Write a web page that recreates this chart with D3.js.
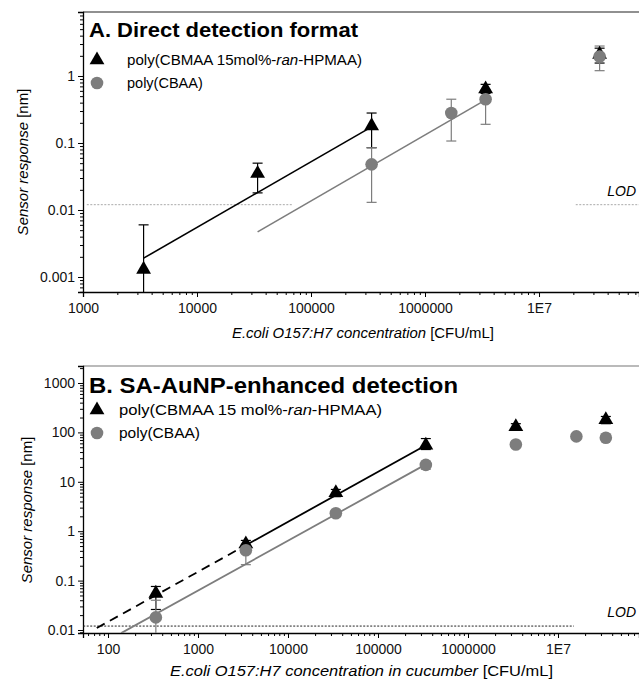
<!DOCTYPE html>
<html>
<head>
<meta charset="utf-8">
<script src="https://cdn.jsdelivr.net/npm/d3@7"></script>
<style>
  body { margin: 0; background: #fff; }
  svg { display: block; font-family: "Liberation Sans", Arial, sans-serif; }
</style>
</head>
<body>
<div id="chart"></div>
<script>
// ---- Panel A: direct detection ----
const aTriX  = [3400, 34000, 340000, 3400000, 34000000];
const aTriY  = [0.0013, 0.035, 0.18, 0.64, 2.1];
const aTriLo = [0.0003, 0.018, 0.085, 0.55, 1.56];
const aTriHi = [0.006, 0.05, 0.28, 0.75, 2.6];

const aCirX  = [340000, 1700000, 3400000, 34000000];
const aCirY  = [0.048, 0.28, 0.45, 1.95];
const aCirLo = [0.013, 0.107, 0.19, 1.2];
const aCirHi = [0.085, 0.45, 0.62, 2.8];

// fits: log10(y) = a + b*log10(x), drawn between x0 and x1
const aFitTri = { a: -6.18, b: 0.98, x0: 3400, x1: 340000 };
const aFitCir = { a: -6.79, b: 0.985, x0: 34000, x1: 3400000 };
const aLOD = 0.012;

const aXTicks = [1e3, 1e4, 1e5, 1e6, 1e7];
const aYTicks = [0.001, 0.01, 0.1, 1];

// ---- Panel B: SA-AuNP enhanced ----
const bTriX  = [340, 3400, 34000, 340000, 3400000, 34000000];
const bTriY  = [0.055, 0.55, 6, 55, 130, 180];
const bTriLo = [0.026, 0.45, 5, 45, 110, 150];
const bTriHi = [0.076, 0.65, 7, 75, 150, 210];

const bCirX  = [340, 3400, 34000, 340000, 3400000, 16000000, 34000000];
const bCirY  = [0.018, 0.41, 2.3, 22, 57, 83, 78];
const bCirLo = [0.008, 0.21, 2.0, 18, 54, 78, 74];
const bCirHi = [0.04, 0.55, 2.6, 26, 60, 88, 82];

const bFitTri = { a: -3.858, b: 1.012, x0: 3400, x1: 340000, dashFrom: 75 };
const bFitCir = { a: -4.229, b: 1.009, x0: 140, x1: 340000 };
const bLOD = 0.012;

const bXTicks = [1e2, 1e3, 1e4, 1e5, 1e6, 1e7];
const bYTicks = [0.01, 0.1, 1, 10, 100, 1000];

const W = 639, H = 680;
const GRAY = "#7d7d7d";

const svg = d3.select("#chart").append("svg")
    .attr("width", W).attr("height", H);

function fmt(v) {
    if (v >= 1e7) return "1E" + Math.round(Math.log10(v));
    return String(v);
}

function minorTicks(domain) {
    const out = [];
    const lo = Math.floor(Math.log10(domain[0])), hi = Math.ceil(Math.log10(domain[1]));
    for (let k = lo; k <= hi; k++) {
        for (let m = 2; m <= 9; m++) {
            const v = m * Math.pow(10, k);
            if (v >= domain[0] && v <= domain[1]) out.push(v);
        }
    }
    return out;
}

function fitY(f, x) { return Math.pow(10, f.a + f.b * Math.log10(x)); }

function drawPanel(cfg) {
    const g = svg.append("g");
    const x = d3.scaleLog().domain(cfg.xDomain).range([cfg.left, cfg.right]);
    const y = d3.scaleLog().domain(cfg.yDomain).range([cfg.bottom, cfg.top]);

    const clipId = "clip" + cfg.id;
    svg.append("clipPath").attr("id", clipId).append("rect")
        .attr("x", cfg.left).attr("y", cfg.top)
        .attr("width", cfg.right - cfg.left).attr("height", cfg.bottom - cfg.top);

    // top frame line
    g.append("line")
        .attr("x1", cfg.left).attr("x2", cfg.right)
        .attr("y1", cfg.top).attr("y2", cfg.top)
        .attr("stroke", cfg.frameColor).attr("stroke-width", 1.2);

    // axes: minor first, then major with labels
    const xMinor = g.append("g").attr("transform", `translate(0,${cfg.bottom})`)
        .call(d3.axisBottom(x).tickValues(minorTicks(cfg.xDomain)).tickSize(3).tickFormat(""));
    const xMajor = g.append("g").attr("transform", `translate(0,${cfg.bottom})`)
        .call(d3.axisBottom(x).tickValues(cfg.xTicks).tickSize(5).tickFormat(fmt).tickPadding(6));
    const yMinor = g.append("g").attr("transform", `translate(${cfg.left},0)`)
        .call(d3.axisLeft(y).tickValues(minorTicks(cfg.yDomain)).tickSize(3).tickFormat(""));
    const yMajor = g.append("g").attr("transform", `translate(${cfg.left},0)`)
        .call(d3.axisLeft(y).tickValues(cfg.yTicks).tickSize(5).tickFormat(fmt).tickPadding(3));

    [xMinor, xMajor, yMinor, yMajor].forEach(a => {
        a.select(".domain").attr("stroke", "#000").attr("stroke-width", 1.3);
        a.selectAll(".tick line").attr("stroke", "#000").attr("stroke-width", 1);
        a.selectAll("text").attr("font-size", 14).attr("fill", "#111")
            .attr("font-family", "Liberation Sans, Arial, sans-serif");
    });
    xMinor.select(".domain").remove();
    yMinor.select(".domain").remove();

    const plot = g.append("g").attr("clip-path", `url(#${clipId})`);

    // LOD line
    cfg.lodSegments.forEach(seg => {
        plot.append("line")
            .attr("x1", x(seg[0])).attr("x2", x(seg[1]))
            .attr("y1", y(cfg.lod)).attr("y2", y(cfg.lod))
            .attr("stroke", cfg.lodColor).attr("stroke-width", 1)
            .attr("stroke-dasharray", "2,1.5");
    });
    g.append("text")
        .attr("x", cfg.right - 3).attr("y", y(cfg.lod) - cfg.lodOffset)
        .attr("text-anchor", "end").attr("font-size", 14).attr("font-style", "italic")
        .text("LOD");

    // fit lines
    const line = d3.line().x(d => x(d)).y(d => y(fitY(cfg.fitCir, d)));
    plot.append("path").datum([cfg.fitCir.x0, cfg.fitCir.x1])
        .attr("d", line).attr("fill", "none")
        .attr("stroke", GRAY).attr("stroke-width", cfg.fitWidth);
    const lineT = d3.line().x(d => x(d)).y(d => y(fitY(cfg.fitTri, d)));
    plot.append("path").datum([cfg.fitTri.x0, cfg.fitTri.x1])
        .attr("d", lineT).attr("fill", "none")
        .attr("stroke", "#000").attr("stroke-width", cfg.fitWidth);
    if (cfg.fitTri.dashFrom) {
        plot.append("path").datum([cfg.fitTri.dashFrom, cfg.fitTri.x0])
            .attr("d", lineT).attr("fill", "none")
            .attr("stroke", "#000").attr("stroke-width", cfg.fitWidth)
            .attr("stroke-dasharray", "9,6");
    }

    // error bars
    function errBars(xs, lo, hi, color) {
        const eg = plot.append("g").attr("stroke", color).attr("stroke-width", 1.2);
        xs.forEach((xv, i) => {
            const cx = x(xv);
            eg.append("line").attr("x1", cx).attr("x2", cx)
                .attr("y1", y(lo[i])).attr("y2", y(hi[i]));
            [lo[i], hi[i]].forEach(v => {
                eg.append("line").attr("x1", cx - 5).attr("x2", cx + 5)
                    .attr("y1", y(v)).attr("y2", y(v));
            });
        });
    }
    errBars(cfg.triX, cfg.triLo, cfg.triHi, "#000");
    errBars(cfg.cirX, cfg.cirLo, cfg.cirHi, GRAY);

    const tri = d3.symbol().type(d3.symbolTriangle).size(95);
    plot.append("g").selectAll("path").data(cfg.triX.map((v, i) => [v, cfg.triY[i]]))
        .join("path")
        .attr("transform", d => `translate(${x(d[0])},${y(d[1])})`)
        .attr("d", tri).attr("fill", "#000");
    plot.append("g").selectAll("circle").data(cfg.cirX.map((v, i) => [v, cfg.cirY[i]]))
        .join("circle")
        .attr("cx", d => x(d[0])).attr("cy", d => y(d[1]))
        .attr("r", 6.3).attr("fill", GRAY);

    // title
    g.append("text").attr("x", cfg.left + 6).attr("y", cfg.titleY)
        .attr("font-size", cfg.titleSize).attr("font-weight", "bold")
        .attr("textLength", cfg.titleLen).attr("lengthAdjust", "spacingAndGlyphs")
        .text(cfg.title);

    // legend
    g.append("path").attr("d", tri)
        .attr("transform", `translate(${cfg.left + 14},${cfg.legY1})`).attr("fill", "#000");
    g.append("circle").attr("cx", cfg.left + 14).attr("cy", cfg.legY2)
        .attr("r", 6.3).attr("fill", GRAY);
    const t1 = g.append("text").attr("x", cfg.legX).attr("y", cfg.legY1 + 5)
        .attr("font-size", cfg.legSize).attr("textLength", cfg.legLen).attr("lengthAdjust", "spacingAndGlyphs");
    t1.append("tspan").text(cfg.legTri[0]);
    t1.append("tspan").attr("font-style", "italic").text("ran");
    t1.append("tspan").text("-HPMAA)");
    g.append("text").attr("x", cfg.legX).attr("y", cfg.legY2 + 5)
        .attr("font-size", cfg.legSize).text("poly(CBAA)");

    // axis labels
    const xl = g.append("text").attr("x", cfg.xLabelX).attr("y", cfg.xLabelY)
        .attr("font-size", 14).attr("textLength", cfg.xLabelLen).attr("lengthAdjust", "spacingAndGlyphs");
    xl.append("tspan").attr("font-style", "italic").text(cfg.xLabel);
    xl.append("tspan").text(" [CFU/mL]");

    const yl = g.append("text")
        .attr("transform", `translate(${cfg.yLabelX},${cfg.yLabelY}) rotate(-90)`)
        .attr("text-anchor", "middle").attr("font-size", 15);
    yl.append("tspan").attr("font-style", "italic").text("Sensor response");
    yl.append("tspan").text(" [nm]");
}

drawPanel({
    id: "A",
    left: 83, right: 639, top: 12, bottom: 292,
    xDomain: [1e3, Math.pow(10, 7.877)],
    yDomain: [Math.pow(10, -3.224), Math.pow(10, 0.955)],
    xTicks: aXTicks, yTicks: aYTicks,
    frameColor: "#222",
    triX: aTriX, triY: aTriY, triLo: aTriLo, triHi: aTriHi,
    cirX: aCirX, cirY: aCirY, cirLo: aCirLo, cirHi: aCirHi,
    fitTri: aFitTri, fitCir: aFitCir, fitWidth: 1.6,
    lod: aLOD, lodColor: "#aaa", lodSegments: [[1080, 68000], [2.1e7, 8e7]], lodOffset: 9,
    title: "A. Direct detection format", titleY: 37, titleSize: 21, titleLen: 269,
    legTri: ["poly(CBMAA 15mol%-"], legX: 127, legY1: 60, legY2: 83, legSize: 14.5, legLen: 235,
    xLabel: "E.coli O157:H7 concentration", xLabelX: 232, xLabelY: 338, xLabelLen: 262,
    yLabelX: 28, yLabelY: 162
});

drawPanel({
    id: "B",
    left: 83, right: 639, top: 366, bottom: 633,
    xDomain: [Math.pow(10, 1.722), Math.pow(10, 7.9)],
    yDomain: [Math.pow(10, -2.061), Math.pow(10, 3.344)],
    xTicks: bXTicks, yTicks: bYTicks,
    frameColor: "#777",
    triX: bTriX, triY: bTriY, triLo: bTriLo, triHi: bTriHi,
    cirX: bCirX, cirY: bCirY, cirLo: bCirLo, cirHi: bCirHi,
    fitTri: bFitTri, fitCir: bFitCir, fitWidth: 1.8,
    lod: bLOD, lodColor: "#222", lodSegments: [[53, 1.5e7]], lodOffset: 9,
    title: "B. SA-AuNP-enhanced detection", titleY: 393, titleSize: 22, titleLen: 369,
    legTri: ["poly(CBMAA 15 mol%-"], legX: 119, legY1: 410, legY2: 433, legSize: 15.5, legLen: 263,
    xLabel: "E.coli O157:H7 concentration in cucumber", xLabelX: 170, xLabelY: 676, xLabelLen: 383,
    yLabelX: 32, yLabelY: 510
});
</script>
</body>
</html>
